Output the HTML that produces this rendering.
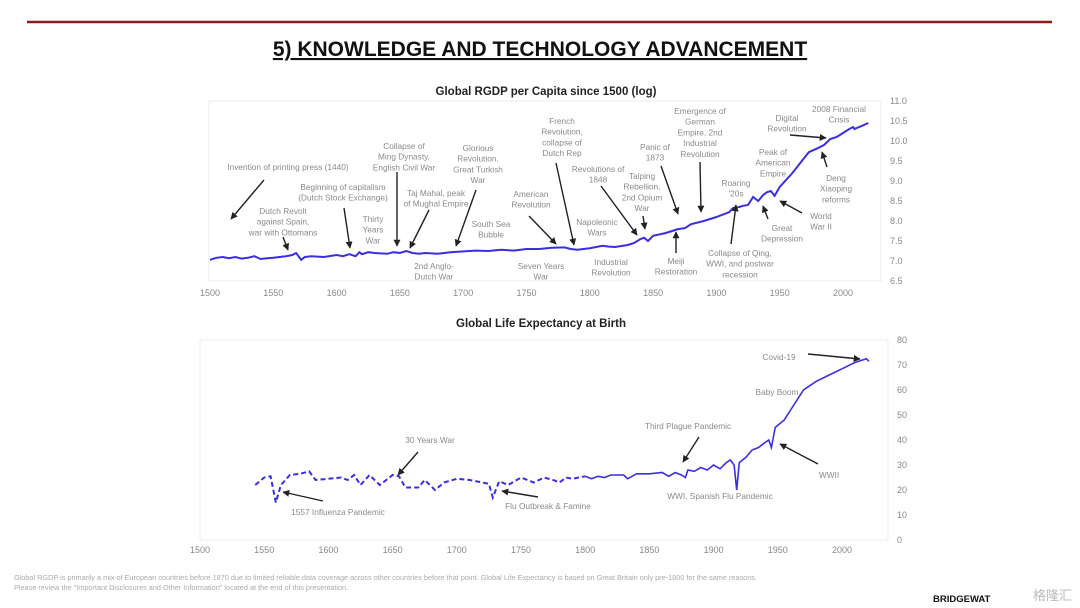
<!DOCTYPE html>
<html><head><meta charset="utf-8">
<style>
html,body{margin:0;padding:0;background:#fff;}
#root{position:relative;width:1080px;height:608px;overflow:hidden;font-family:"Liberation Sans","Noto Sans CJK SC",sans-serif;}
svg text{font-family:"Liberation Sans","Noto Sans CJK SC",sans-serif;}
</style></head>
<body>
<div id="root">
<svg id="svg" width="1080" height="608" viewBox="0 0 1080 608">
<defs>
<marker id="ah" viewBox="0 0 10 10" refX="9" refY="5" markerWidth="5" markerHeight="5" orient="auto"><path d="M0,0 L10,5 L0,10 z" fill="#222"/></marker>
</defs>
<line x1="27" y1="22" x2="1052" y2="22" stroke="#8b1a1a" stroke-width="2.5"/>
<text x="540" y="56" text-anchor="middle" font-size="21" font-weight="bold" fill="#111" text-decoration="underline">5) KNOWLEDGE AND TECHNOLOGY ADVANCEMENT</text>
<text x="546" y="95" text-anchor="middle" font-size="11.5" font-weight="bold" fill="#222">Global RGDP per Capita since 1500 (log)</text>
<text x="541" y="327" text-anchor="middle" font-size="11.5" font-weight="bold" fill="#222">Global Life Expectancy at Birth</text>
<rect x="209" y="101" width="672" height="180" fill="none" stroke="#eee"/>
<rect x="200" y="340" width="688" height="200" fill="none" stroke="#eee"/>
<g id="topChart"></g>
<g id="botChart"></g>
<g id="ann"></g>
<text x="14" y="580" font-size="7.3" fill="#aaa">Global RGDP is primarily a mix of European countries before 1870 due to limited reliable data coverage across other countries before that point. Global Life Expectancy is based on Great Britain only pre-1800 for the same reasons.</text>
<text x="14" y="590" font-size="7.3" fill="#aaa">Please review the "Important Disclosures and Other Information" located at the end of this presentation.</text>
<text x="933" y="602" font-size="9.5" font-weight="bold" fill="#111">BRIDGEWAT</text>
<text x="1033" y="600" font-size="13" fill="#bbb">格隆汇</text>
</svg>
</div>
<script>
const NS="http://www.w3.org/2000/svg";
// ---- RGDP chart data ----
const gdpYears=[1500,1505,1510,1515,1520,1525,1530,1535,1540,1545,1550,1555,1560,1565,1568,1572,1575,1580,1590,1600,1605,1610,1615,1618,1620,1625,1630,1640,1645,1650,1655,1660,1665,1670,1680,1690,1700,1710,1720,1730,1740,1750,1760,1770,1780,1785,1790,1800,1810,1815,1820,1830,1835,1840,1843,1846,1850,1860,1870,1875,1880,1890,1900,1910,1913,1918,1921,1925,1929,1933,1937,1940,1943,1946,1950,1960,1970,1973,1980,1985,1990,1995,2000,2005,2008,2009,2015,2020];
const gdpValues=[7.03,7.08,7.1,7.07,7.1,7.06,7.08,7.12,7.05,7.07,7.08,7.1,7.12,7.15,7.2,7.03,7.1,7.12,7.1,7.15,7.12,7.17,7.12,7.22,7.17,7.22,7.2,7.18,7.22,7.2,7.25,7.2,7.18,7.2,7.18,7.22,7.24,7.26,7.25,7.28,7.26,7.3,7.3,7.33,7.34,7.3,7.28,7.32,7.38,7.36,7.35,7.4,7.45,7.55,7.58,7.5,7.63,7.7,7.8,7.82,7.92,8.0,8.1,8.22,8.32,8.35,8.38,8.4,8.6,8.5,8.65,8.72,8.75,8.63,8.85,9.2,9.6,9.72,9.82,9.9,10.05,10.1,10.2,10.3,10.35,10.3,10.38,10.45];
const gdpXTicks=[1500,1550,1600,1650,1700,1750,1800,1850,1900,1950,2000];
const gdpYTicks=[6.5,7.0,7.5,8.0,8.5,9.0,9.5,10.0,10.5,11.0];
// ---- Life expectancy data ----
const leYears=[1543,1550,1555,1559,1563,1570,1578,1585,1590,1600,1610,1615,1620,1625,1632,1640,1645,1650,1655,1660,1670,1675,1683,1690,1700,1710,1720,1725,1728,1733,1740,1750,1760,1768,1775,1780,1785,1790,1800,1805,1810,1815,1820,1830,1833,1840,1850,1860,1865,1870,1875,1878,1880,1885,1890,1895,1900,1905,1910,1913,1916,1918,1920,1925,1930,1935,1940,1943,1945,1948,1955,1960,1970,1980,1990,2000,2010,2019,2021];
const leValues=[22,25,25.5,15,22,26,26.5,27.5,24,24.5,25,24,26,22,26,22,24,26,25.5,21,21,24,20,23,24.5,24,23,22.5,17,23.5,22,25,23,25,24,23,25,24.5,25.5,24.5,25.5,25,26,26,24.5,26.5,26.5,27,25.5,27,26,25,28,27.5,29,28,30,28.5,31,32,30,20,31,33,36,37,39,40,37,45,48,52,60,63.5,66,68.5,71,72.5,71.5];
const leXTicks=[1500,1550,1600,1650,1700,1750,1800,1850,1900,1950,2000];
const leYTicks=[0,10,20,30,40,50,60,70,80];
const leSolidFrom=1800;

const gx=y=>210+(y-1500)*1.266, gy=v=>281-(v-6.5)*40;
const lx=y=>200+(y-1500)*1.284, ly=v=>540-v*2.5;

function mk(tag,attrs,parent,txt){const e=document.createElementNS(NS,tag);for(const k in attrs)e.setAttribute(k,attrs[k]);if(txt!==undefined)e.textContent=txt;parent.appendChild(e);return e;}

const topG=document.getElementById('topChart');
gdpXTicks.forEach(t=>{const e=mk('text',{x:gx(t),y:296,'text-anchor':'middle','font-size':9,fill:'#888'},topG,String(t));

});
gdpYTicks.forEach(t=>{const e=mk('text',{x:890,y:gy(t)+3,'font-size':9,fill:'#888'},topG,t.toFixed(1));

});
const gp=mk('path',{d:gdpYears.map((y,i)=>(i?'L':'M')+gx(y).toFixed(1)+','+gy(gdpValues[i]).toFixed(1)).join(' '),fill:'none',stroke:'#3a2fe0','stroke-width':2},topG);



const botG=document.getElementById('botChart');
leXTicks.forEach(t=>{const e=mk('text',{x:lx(t),y:553,'text-anchor':'middle','font-size':9,fill:'#888'},botG,String(t));

});
leYTicks.forEach(t=>{const e=mk('text',{x:897,y:ly(t)+3,'font-size':9,fill:'#888'},botG,String(t));

});
let d1='',d2='';
leYears.forEach((y,i)=>{const p=lx(y).toFixed(1)+','+ly(leValues[i]).toFixed(1);
 if(y<=leSolidFrom)d1+=(d1?'L':'M')+p+' ';
 if(y>=leSolidFrom)d2+=(d2?'L':'M')+p+' ';});
const dl=mk('path',{d:d1,fill:'none',stroke:'#3a2fe0','stroke-width':2,'stroke-dasharray':'5,3'},botG);


const sl=mk('path',{d:d2,fill:'none',stroke:'#3a2fe0','stroke-width':1.6},botG);



const annG=document.getElementById('ann');
const notes=[
[["Invention of printing press (1440)"],288,170,[264,180,231,219]],
[["Dutch Revolt","against Spain,","war with Ottomans"],283,214,[283,237,288,250]],
[["Beginning of capitalism","(Dutch Stock Exchange)"],343,190,[344,208,350,248]],
[["Thirty","Years","War"],373,222,null],
[["Collapse of","Ming Dynasty,","English Civil War"],404,149,[397,172,397,246]],
[["Taj Mahal, peak","of Mughal Empire"],436,196,[429,210,410,248]],
[["Glorious","Revolution,","Great Turkish","War"],478,151,[476,190,456,246]],
[["South Sea","Bubble"],491,227,null],
[["2nd Anglo-","Dutch War"],434,269,null],
[["American","Revolution"],531,197,[529,216,556,244]],
[["French","Revolution,","collapse of","Dutch Rep"],562,124,[556,163,574,245]],
[["Seven Years","War"],541,269,null],
[["Revolutions of","1848"],598,172,[601,186,637,235]],
[["Napoleonic","Wars"],597,225,null],
[["Industrial","Revolution"],611,265,null],
[["Panic of","1873"],655,150,[661,166,678,214]],
[["Taiping","Rebellion,","2nd Opium","War"],642,179,[643,216,645,229]],
[["Meiji","Restoration"],676,264,[676,253,676,232]],
[["Emergence of","German","Empire, 2nd","Industrial","Revolution"],700,114,[700,162,701,212]],
[["Roaring","'20s"],736,186,null],
[["Collapse of Qing,","WWI, and postwar","recession"],740,256,[731,244,736,205]],
[["Peak of","American","Empire"],773,155,null],
[["Great","Depression"],782,231,[768,219,763,206]],
[["World","War II"],821,219,[802,213,780,201]],
[["Digital","Revolution"],787,121,[790,135,826,138]],
[["2008 Financial","Crisis"],839,112,null],
[["Deng","Xiaoping","reforms"],836,181,[827,167,822,152]],
[["1557 Influenza Pandemic"],338,515,[323,501,283,492]],
[["30 Years War"],430,443,[418,452,398,475]],
[["Flu Outbreak & Famine"],548,509,[538,497,502,491]],
[["Third Plague Pandemic"],688,429,[699,437,683,462]],
[["WWI, Spanish Flu Pandemic"],720,499,null],
[["Covid-19"],779,360,[808,354,860,359]],
[["Baby Boom"],777,395,null],
[["WWII"],829,478,[818,464,780,444]]
];
notes.forEach((n,i)=>{
 const g=mk('g',{},annG);
 
 
 n[0].forEach((l,j)=>mk('text',{x:n[1],y:n[2]+j*10.7,'text-anchor':'middle','font-size':8.3,fill:'#8a8a8a'},g,l));
 if(n[3]){const a=n[3];mk('line',{x1:a[0],y1:a[1],x2:a[2],y2:a[3],stroke:'#222','stroke-width':1.4,'marker-end':'url(#ah)'},g);}
});
</script>
</body></html>
